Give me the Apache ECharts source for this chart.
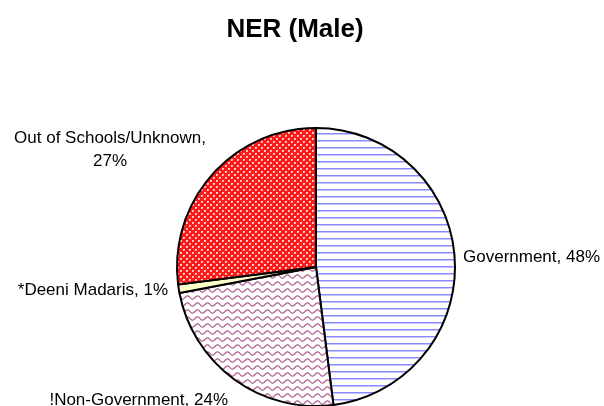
<!DOCTYPE html>
<html>
<head>
<meta charset="utf-8">
<script src="https://cdn.jsdelivr.net/npm/echarts@6/dist/echarts.min.js"></script>
<style>
  html, body { margin: 0; padding: 0; background: #fff; }
  #chart { width: 604px; height: 406px; }
</style>
</head>
<body>
<div id="chart"></div>
<script>
// data
const categories = ['Government', '!Non-Government', '*Deeni Madaris', 'Out of Schools/Unknown']
const values = [48, 24, 1, 27]

// label anchors (x, y, align)
const labelPos = [
  { x: 463, y: 257, align: 'left' },
  { x: 228, y: 400, align: 'right' },
  { x: 168, y: 290, align: 'right' },
  { x: 110, y: 150, align: 'center' },
]

// hatch fills, drawn on small canvases
function makeTile(w, h, draw) {
  const c = document.createElement('canvas')
  c.width = w
  c.height = h
  const ctx = c.getContext('2d')
  draw(ctx)
  return { image: c, repeat: 'repeat' }
}

const blueLines = makeTile(8, 7, function (ctx) {
  ctx.fillStyle = '#ffffff'
  ctx.fillRect(0, 0, 8, 7)
  ctx.fillStyle = '#8a8aff'
  ctx.fillRect(0, 0, 8, 1)
  ctx.fillStyle = '#c4c4ff'
  ctx.fillRect(0, 1, 8, 1)
})

// red crosses with pale gaps
const redCross = makeTile(6, 6, function (ctx) {
  ctx.fillStyle = '#ff1a1a'
  ctx.fillRect(0, 0, 6, 6)
  ctx.fillStyle = '#ffd6d6'
  ctx.fillRect(0, 0, 2, 1)
  ctx.fillRect(0, 1, 1, 1)
  ctx.fillRect(3, 3, 2, 1)
  ctx.fillRect(3, 4, 1, 1)
  ctx.fillStyle = '#ff8c8c'
  ctx.fillRect(1, 1, 1, 1)
  ctx.fillRect(4, 4, 1, 1)
})

const wavy = makeTile(10, 7, function (ctx) {
  ctx.fillStyle = '#ffffff'
  ctx.fillRect(0, 0, 10, 7)
  ctx.strokeStyle = '#b0608f'
  ctx.lineWidth = 1.3
  ctx.beginPath()
  for (let x = 0; x <= 10; x += 0.5) {
    const y = 3.5 + 1.6 * Math.sin((x / 10) * Math.PI * 2)
    if (x === 0) ctx.moveTo(x, y)
    else ctx.lineTo(x, y)
  }
  ctx.stroke()
})

const fills = [blueLines, wavy, '#ffffcc', redCross]

const chartDom = document.getElementById('chart')
const myChart = echarts.init(chartDom)
const option = {
  backgroundColor: '#ffffff',
  animation: false,
  title: {
    text: 'NER (Male)',
    left: 290,
    textAlign: 'center',
    top: 12,
    textStyle: {
      fontFamily: 'Liberation Sans, Arial, sans-serif',
      fontSize: 26,
      fontWeight: 'bold',
      color: '#000',
    },
  },
  series: [
    {
      type: 'pie',
      center: [316, 267],
      radius: [0, 139],
      startAngle: 90,
      clockwise: true,
      avoidLabelOverlap: false,
      data: categories.map(function (name, i) {
        return {
          name: name,
          value: values[i],
          itemStyle: { color: fills[i] },
        }
      }),
      itemStyle: {
        borderColor: '#000',
        borderWidth: 2,
      },
      label: {
        show: true,
        position: 'outside',
        formatter: function (p) {
          if (p.dataIndex === 3) return p.name + ',\n' + p.value + '%'
          return p.name + ', ' + p.value + '%'
        },
        fontFamily: 'Liberation Sans, Arial, sans-serif',
        fontSize: 17,
        lineHeight: 23,
        color: '#000',
      },
      labelLine: { show: false },
      labelLayout: function (params) {
        const p = labelPos[params.dataIndex]
        return {
          x: p.x,
          y: p.y,
          align: p.align,
          verticalAlign: 'middle',
        }
      },
      emphasis: { disabled: true },
    },
  ],
}
option && myChart.setOption(option)
</script>
</body>
</html>
